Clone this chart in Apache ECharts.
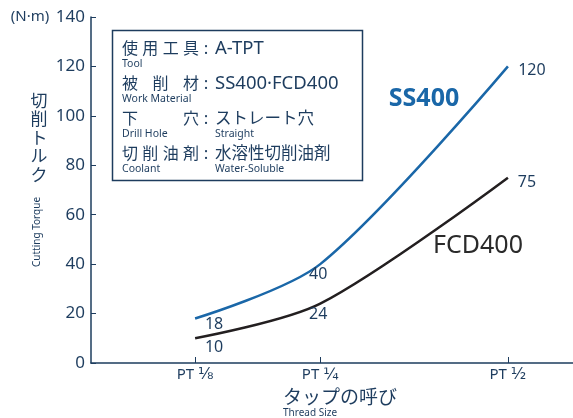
<!DOCTYPE html>
<html>
<head>
<meta charset="utf-8">
<script src="https://cdn.jsdelivr.net/npm/echarts@6/dist/echarts.min.js"></script>
<style>
  html, body { margin: 0; padding: 0; background: #fff; }
  #chart { width: 573px; height: 418px; }
</style>
</head>
<body>
<div id="chart"></div>
<script>
// Thread sizes (fraction part) and their positions along the horizontal axis
const threadSizes = ['\u215B', '\u00BC', '\u00BD'];
const threadPos = [1, 2, 3.5];

// Cutting torque (N·m) per material
const ss400 = [18, 40, 120];
const fcd400 = [10, 24, 75];

// Per-point value label offsets [dx, dy]
const ssLabelOffsets = [[19, 6], [-2, 10], [24, 4]];
const fcdLabelOffsets = [[19, 9], [-2, 11], [19, 5]];

// Condition table rows: label, English label, value, English value
const condLabels = ['使用工具', '被削材', '下穴', '切削油剤'];
const condLabelsEn = ['Tool', 'Work Material', 'Drill Hole', 'Coolant'];
const condValues = ['A-TPT', 'SS400·FCD400', 'ストレート穴', '水溶性切削油剤'];
const condValuesEn = ['', '', 'Straight', 'Water-Soluble'];

const NAVY = '#1d3c5e';
const BLUE = '#1a67a8';
const BLACK = '#231f20';
const FONT = '"Noto Sans", "Noto Sans CJK JP", sans-serif';

function seriesData(vals, offsets) {
  return vals.map((v, i) => ({
    value: [threadPos[i], v],
    label: { offset: offsets[i] }
  }));
}

// Build the condition box text
const graphics = [];
graphics.push({
  type: 'rect',
  shape: { x: 112.5, y: 30.5, width: 250, height: 150 },
  style: { fill: 'none', stroke: NAVY, lineWidth: 1.5 },
  z: 10
});
const rowY = [49, 84, 119, 154];
condLabels.forEach((lab, r) => {
  const chars = Array.from(lab);
  const x0 = 122, x1 = 183;
  chars.forEach((ch, i) => {
    const x = chars.length === 1 ? x0 : x0 + (x1 - x0) * i / (chars.length - 1);
    graphics.push({
      type: 'text', x: x, y: rowY[r],
      style: { text: ch, font: '16px ' + FONT, fill: NAVY, textVerticalAlign: 'middle' }, z: 10
    });
  });
  graphics.push({
    type: 'text', x: 206, y: rowY[r],
    style: { text: ':', font: '17px ' + FONT, fill: NAVY, textAlign: 'center', textVerticalAlign: 'middle' }, z: 10
  });
  graphics.push({
    type: 'text', x: 215, y: rowY[r],
    style: { text: condValues[r], font: (r < 2 ? '18.5px ' : '16.5px ') + FONT, fill: NAVY, textVerticalAlign: 'middle' }, z: 10
  });
  graphics.push({
    type: 'text', x: 122, y: rowY[r] + 15,
    style: { text: condLabelsEn[r], font: '10.5px ' + FONT, fill: NAVY, textVerticalAlign: 'middle' }, z: 10
  });
  if (condValuesEn[r]) {
    graphics.push({
      type: 'text', x: 215, y: rowY[r] + 15,
      style: { text: condValuesEn[r], font: '10.5px ' + FONT, fill: NAVY, textVerticalAlign: 'middle' }, z: 10
    });
  }
});

// Axis titles, unit and material names
graphics.push(
  { type: 'text', x: 30, y: 17, style: { text: '(N·m)', font: '15px ' + FONT, fill: NAVY, textAlign: 'center', textVerticalAlign: 'middle' } },
  { type: 'text', x: 39, y: 139, style: { text: '切\n削\nト\nル\nク', font: '17px ' + FONT, fill: NAVY, textAlign: 'center', textVerticalAlign: 'middle', lineHeight: 18.6 } },
  { type: 'text', x: 37, y: 232, rotation: Math.PI / 2, style: { text: 'Cutting Torque', font: '10px ' + FONT, fill: NAVY, textAlign: 'center', textVerticalAlign: 'middle' } },
  { type: 'text', x: 283, y: 399, style: { text: 'タップの呼び', font: '19px ' + FONT, fill: NAVY, textVerticalAlign: 'middle' } },
  { type: 'text', x: 283, y: 413, style: { text: 'Thread Size', font: '10px ' + FONT, fill: NAVY, textVerticalAlign: 'middle' } },
  { type: 'text', x: 424, y: 99, style: { text: 'SS400', font: 'bold 25px ' + FONT, fill: BLUE, textAlign: 'center', textVerticalAlign: 'middle' } },
  { type: 'text', x: 478, y: 246, style: { text: 'FCD400', font: '25px ' + FONT, fill: '#2a2a2a', textAlign: 'center', textVerticalAlign: 'middle' } }
);

const valueLabel = {
  show: true, position: 'inside', color: NAVY, fontSize: 16, fontFamily: FONT,
  formatter: p => p.value[1]
};

const chart = echarts.init(document.getElementById('chart'), null, { renderer: 'canvas' });
chart.setOption({
  animation: false,
  backgroundColor: '#fff',
  grid: { left: 91, right: 0, top: 17, bottom: 55, containLabel: false },
  xAxis: {
    type: 'value',
    min: 0.168,
    max: 4.02,
    splitLine: { show: false },
    axisLine: { lineStyle: { color: NAVY, width: 1.5 } },
    axisTick: { show: true, inside: true, length: 6, customValues: threadPos, lineStyle: { color: NAVY, width: 1 } },
    axisLabel: {
      customValues: threadPos,
      margin: 4,
      color: NAVY,
      formatter: v => '{a|PT }{f|' + (threadSizes[threadPos.indexOf(v)] || '') + '}',
      rich: {
        a: { fontSize: 15, fontFamily: FONT, color: NAVY },
        f: { fontSize: 16, fontFamily: '"DejaVu Sans"', color: NAVY }
      }
    }
  },
  yAxis: {
    type: 'value',
    min: 0,
    max: 140,
    interval: 20,
    splitLine: { show: false },
    axisLine: { show: true, lineStyle: { color: NAVY, width: 1.5 } },
    axisTick: { show: true, inside: true, length: 5, lineStyle: { color: NAVY, width: 1 } },
    axisLabel: { margin: 6, color: NAVY, fontSize: 17, fontFamily: FONT }
  },
  series: [
    {
      name: 'SS400',
      type: 'line',
      data: seriesData(ss400, ssLabelOffsets),
      smooth: 0.3,
      showSymbol: true,
      symbol: 'circle',
      symbolSize: 1,
      itemStyle: { color: 'rgba(0,0,0,0)' },
      lineStyle: { color: BLUE, width: 2.5 },
      label: valueLabel
    },
    {
      name: 'FCD400',
      type: 'line',
      data: seriesData(fcd400, fcdLabelOffsets),
      smooth: 0.3,
      showSymbol: true,
      symbol: 'circle',
      symbolSize: 1,
      itemStyle: { color: 'rgba(0,0,0,0)' },
      lineStyle: { color: BLACK, width: 2.5 },
      label: valueLabel
    }
  ],
  graphic: graphics
});
</script>
</body>
</html>
